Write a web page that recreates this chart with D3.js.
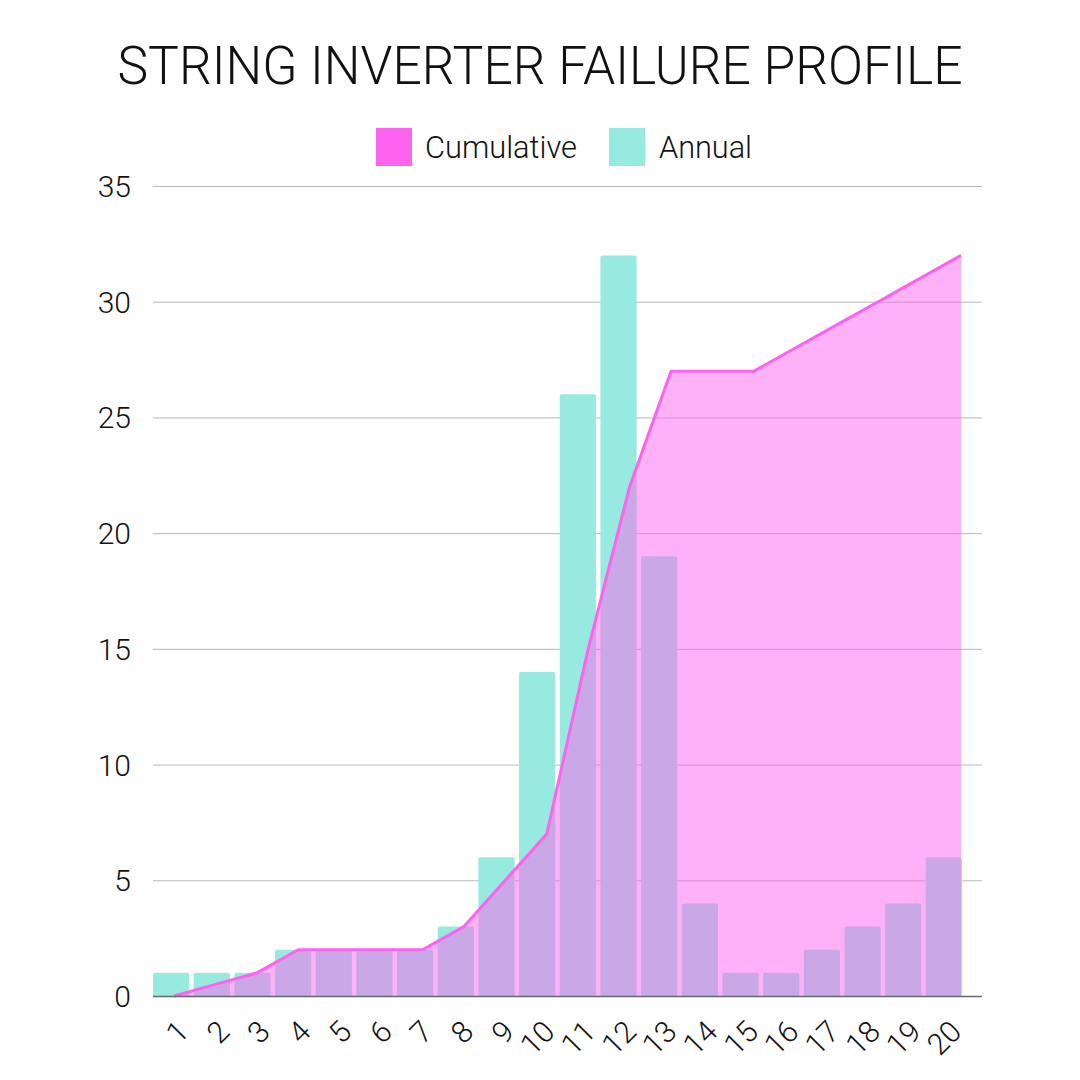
<!DOCTYPE html>
<html>
<head>
<meta charset="utf-8">
<script src="https://cdn.jsdelivr.net/npm/d3@7"></script>
<style>
  html, body { margin: 0; padding: 0; background: #ffffff; }
  svg { display: block; }
  text { font-family: Roboto, "Noto Sans", sans-serif; font-weight: 300; fill: #111; }
</style>
</head>
<body>
<svg id="chart" width="1080" height="1080"></svg>
<script>
const years = ["1","2","3","4","5","6","7","8","9","10","11","12","13","14","15","16","17","18","19","20"];
const annual = [1,1,1,2,2,2,2,3,6,14,26,32,19,4,1,1,2,3,4,6];
const cumulative = [0,0.5,1,2,2,2,2,3,5,7,15,22,27,27,27,28,29,30,31,32];
const yTicks = [0,5,10,15,20,25,30,35];
const titleText = "STRING INVERTER FAILURE PROFILE";
const seriesNames = ["Cumulative", "Annual"];

const colors = { cumulative: "#fd63ee", annual: "#96eadf" };

const svg = d3.select("#chart");

const x = d3.scaleBand().domain(years).range([153, 962]).paddingInner(0.11).paddingOuter(0.0);
const xLine = d3.scalePoint().domain(years).range([174, 961]);
const y = d3.scaleLinear().domain([0, 35]).range([996, 186]);

// Title
svg.append("text")
  .attr("x", 540).attr("y", 84)
  .attr("text-anchor", "middle")
  .attr("font-size", 53)
  .attr("textLength", 845)
  .attr("lengthAdjust", "spacingAndGlyphs")
  .text(titleText);

// Legend
const legend = svg.append("g");
const legendItems = [
  { name: seriesNames[0], color: colors.cumulative, x: 376, tx: 425, tw: 152 },
  { name: seriesNames[1], color: colors.annual, x: 609, tx: 659, tw: 93 }
];
legendItems.forEach(d => {
  legend.append("rect").attr("x", d.x).attr("y", 128).attr("width", 36).attr("height", 38).attr("fill", d.color);
  legend.append("text").attr("x", d.tx).attr("y", 158).attr("font-size", 32)
    .attr("textLength", d.tw).attr("lengthAdjust", "spacingAndGlyphs").text(d.name);
});

// Gridlines
const grid = svg.append("g");
grid.selectAll("line").data(yTicks.filter(t => t > 0)).enter().append("line")
  .attr("x1", 153).attr("x2", 982)
  .attr("y1", d => y(d) + 0.5).attr("y2", d => y(d) + 0.5)
  .attr("stroke", "#b8b8b8").attr("stroke-width", 1);

// Y axis labels
const yAxis = d3.axisLeft(y).tickValues(yTicks).tickSize(0).tickPadding(0);
const yG = svg.append("g").attr("transform", "translate(131,0)").call(yAxis);
yG.select(".domain").remove();
yG.selectAll("text")
  .attr("font-size", 30).attr("font-family", "Roboto, sans-serif").attr("font-weight", 300)
  .attr("fill", "#111").attr("dy", "0.35em");

// Bars
svg.append("g").selectAll("path").data(annual).enter().append("path")
  .attr("fill", colors.annual)
  .attr("d", (d, i) => {
    const x0 = x(years[i]), w = x.bandwidth(), yt = y(d), yb = y(0), r = 2;
    return `M${x0},${yb}V${yt + r}Q${x0},${yt} ${x0 + r},${yt}H${x0 + w - r}Q${x0 + w},${yt} ${x0 + w},${yt + r}V${yb}Z`;
  });

// Cumulative area
const area = d3.area()
  .x((d, i) => xLine(years[i]))
  .y0(y(0))
  .y1(d => y(d));
svg.append("path").datum(cumulative)
  .attr("d", area)
  .attr("fill", colors.cumulative)
  .attr("fill-opacity", 0.5);

const line = d3.line()
  .x((d, i) => xLine(years[i]))
  .y(d => y(d));
svg.append("path").datum(cumulative)
  .attr("d", line)
  .attr("fill", "none")
  .attr("stroke", colors.cumulative)
  .attr("stroke-width", 3)
  .attr("stroke-linejoin", "round");

// Baseline
svg.append("line")
  .attr("x1", 153).attr("x2", 982)
  .attr("y1", y(0) + 0.5).attr("y2", y(0) + 0.5)
  .attr("stroke", "#5f6b68").attr("stroke-width", 1.5);

// X axis labels
const xAxis = d3.axisBottom(x).tickSize(0).tickPadding(0);
const xG = svg.append("g").attr("transform", `translate(0,${y(0)})`).call(xAxis);
xG.select(".domain").remove();
xG.selectAll(".tick text")
  .attr("font-size", 30).attr("font-family", "Roboto, sans-serif").attr("font-weight", 300)
  .attr("fill", "#111")
  .attr("text-anchor", "end")
  .attr("dy", "0.35em")
  .attr("transform", "translate(12,30) rotate(-45)")
  .attr("y", 0).attr("x", 0);
</script>
</body>
</html>
